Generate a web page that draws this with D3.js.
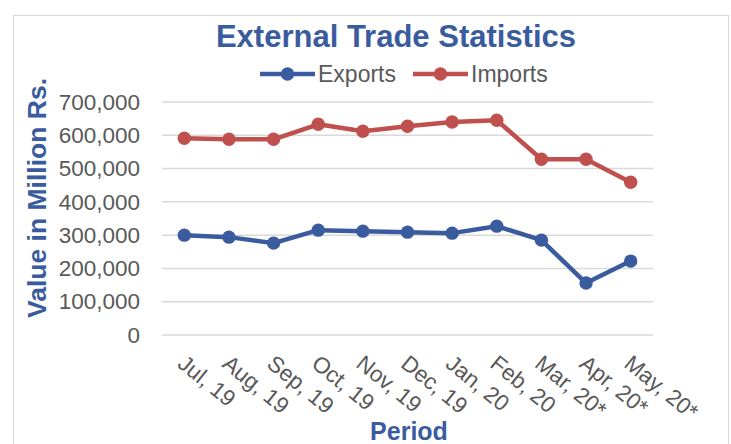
<!DOCTYPE html>
<html>
<head>
<meta charset="utf-8">
<script src="https://cdn.jsdelivr.net/npm/d3@7"></script>
<style>
  body { margin: 0; background: #fff; }
  svg { display: block; font-family: "Liberation Sans", Arial, sans-serif; }
</style>
</head>
<body>
<div id="chart"></div>
<script>
const periods = ["Jul, 19", "Aug, 19", "Sep, 19", "Oct, 19", "Nov, 19", "Dec, 19",
  "Jan, 20", "Feb, 20", "Mar, 20*", "Apr, 20*", "May, 20*"];
const exportsVals = [300000, 294000, 276000, 315000, 312000, 309000, 306000, 327000, 285000, 156000, 222000];
const importsVals = [591000, 588000, 588000, 633000, 612000, 627000, 640000, 645000, 528000, 528000, 459000];
const yTicks = [0, 100000, 200000, 300000, 400000, 500000, 600000, 700000];

const width = 731, height = 444;
const blue = "#3A5C9E", red = "#C0504D", textGray = "#595959";
const margin = { top: 102, right: 78, bottom: 109, left: 162 };
const w = width - margin.left - margin.right;
const h = height - margin.top - margin.bottom;

const svg = d3.select("#chart").append("svg")
  .attr("width", width)
  .attr("height", height);

// chart border
svg.append("rect")
  .attr("x", 13.5).attr("y", 15.5)
  .attr("width", 715).attr("height", 440)
  .attr("fill", "none")
  .attr("stroke", "#d9d9d9")
  .attr("stroke-width", 1);

const g = svg.append("g")
  .attr("transform", "translate(" + margin.left + "," + margin.top + ")");

const x = d3.scaleBand().domain(periods).range([0, w]);
const y = d3.scaleLinear().domain([0, 700000]).range([h, 0]);

// gridlines
g.append("g")
  .selectAll("line")
  .data(yTicks)
  .join("line")
  .attr("x1", 0).attr("x2", w)
  .attr("y1", d => y(d)).attr("y2", d => y(d))
  .attr("stroke", "#d9d9d9")
  .attr("stroke-width", 1.5);

// y axis labels
const yAxis = g.append("g")
  .call(d3.axisLeft(y).tickValues(yTicks).tickSize(0).tickPadding(22).tickFormat(d3.format(",")));
yAxis.select(".domain").remove();
yAxis.selectAll("text")
  .attr("fill", textGray)
  .style("font-size", "22.5px");

// x axis labels, rotated
const xAxis = g.append("g")
  .attr("transform", "translate(0," + h + ")")
  .call(d3.axisBottom(x).tickSize(0));
xAxis.select(".domain").remove();
xAxis.selectAll("text")
  .attr("fill", textGray)
  .style("font-size", "22.5px")
  .attr("text-anchor", "start")
  .attr("dy", null)
  .attr("y", 0)
  .attr("transform", "translate(-8,31) rotate(39)");

const series = [
  { name: "Exports", values: exportsVals, color: blue },
  { name: "Imports", values: importsVals, color: red }
];

const line = d3.line()
  .x((d, i) => x(periods[i]) + x.bandwidth() / 2)
  .y(d => y(d));

series.forEach(s => {
  g.append("path")
    .datum(s.values)
    .attr("fill", "none")
    .attr("stroke", s.color)
    .attr("stroke-width", 4.5)
    .attr("stroke-linejoin", "round")
    .attr("d", line);

  g.append("g")
    .selectAll("circle")
    .data(s.values)
    .join("circle")
    .attr("cx", (d, i) => x(periods[i]) + x.bandwidth() / 2)
    .attr("cy", d => y(d))
    .attr("r", 6.7)
    .attr("fill", s.color);
});

// title
svg.append("text")
  .attr("x", 396).attr("y", 47)
  .attr("text-anchor", "middle")
  .attr("fill", blue)
  .style("font-size", "31px")
  .style("font-weight", "bold")
  .text("External Trade Statistics");

// legend
const legendPos = [260, 413];
series.forEach((s, i) => {
  const lg = svg.append("g").attr("transform", "translate(" + legendPos[i] + ",74)");
  lg.append("line")
    .attr("x1", 0).attr("x2", 55)
    .attr("stroke", s.color)
    .attr("stroke-width", 4.5);
  lg.append("circle")
    .attr("cx", 27.5).attr("r", 6.7)
    .attr("fill", s.color);
  lg.append("text")
    .attr("x", 58).attr("y", 8)
    .attr("fill", textGray)
    .style("font-size", "23px")
    .text(s.name);
});

// axis titles
svg.append("text")
  .attr("transform", "translate(46,198) rotate(-90)")
  .attr("text-anchor", "middle")
  .attr("fill", blue)
  .style("font-size", "26.5px")
  .style("font-weight", "bold")
  .text("Value in Million Rs.");

svg.append("text")
  .attr("x", 409).attr("y", 440)
  .attr("text-anchor", "middle")
  .attr("fill", blue)
  .style("font-size", "25px")
  .style("font-weight", "bold")
  .text("Period");
</script>
</body>
</html>
